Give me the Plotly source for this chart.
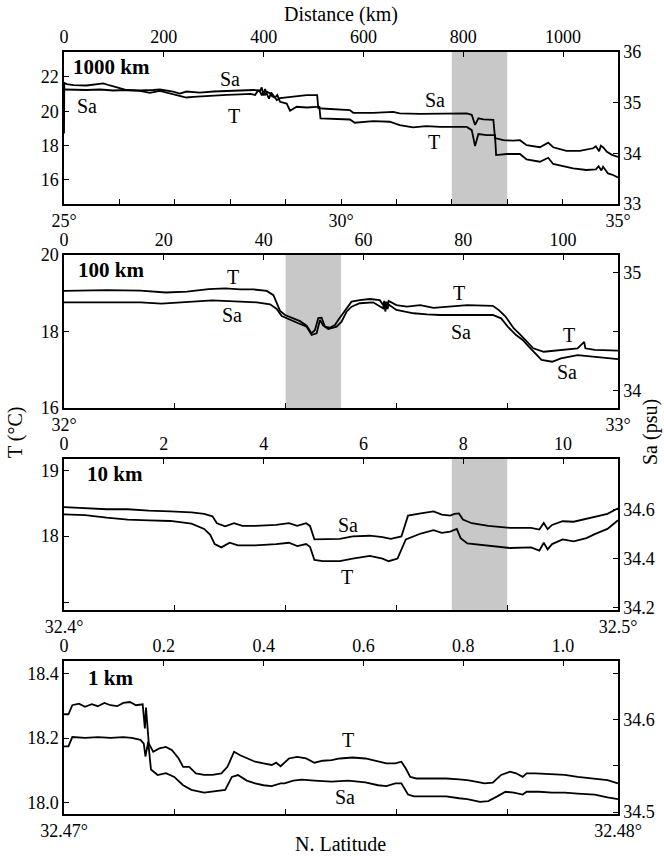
import plotly.graph_objects as go

# ---------------- data ----------------
# Panel 1 (1000 km): latitude vs T and Sa
p1_lat_T = [25.00, 25.005, 25.05, 25.17, 25.41, 25.59, 25.71, 25.83, 25.95, 26.13, 26.37, 26.55, 26.73, 26.91,
            27.09, 27.21, 27.33, 27.51, 27.70, 27.94, 28.18, 28.36, 28.45, 28.50, 28.54, 28.57, 28.60, 28.63,
            28.67, 28.72, 28.76, 28.81, 28.85, 28.90, 29.02, 29.08, 29.20, 29.38, 29.56, 29.61, 29.63, 29.98,
            30.16, 30.25, 30.58, 30.88, 31.06, 31.30, 31.54, 31.79, 32.27, 32.36, 32.42, 32.48, 32.63, 32.78,
            32.80, 32.99, 33.23, 33.35, 33.59, 33.74, 33.83, 34.19, 34.43, 34.60, 34.65, 34.70, 34.73, 34.82,
            34.91, 35.00]
p1_T = [18.7, 21.65, 21.58, 21.52, 21.50, 21.58, 21.62, 21.50, 21.38, 21.23, 21.19, 21.07, 21.19, 21.04,
        20.88, 20.80, 20.84, 20.88, 20.94, 20.95, 20.98, 21.01, 20.95, 21.20, 21.13, 20.92, 21.18, 20.94,
        21.12, 21.04, 20.86, 20.80, 20.95, 20.55, 20.45, 20.03, 20.26, 20.22, 20.26, 20.26, 19.58, 19.55,
        19.52, 19.33, 19.43, 19.39, 19.19, 19.06, 19.13, 19.09, 19.09, 18.90, 17.97, 18.67, 18.61, 18.61,
        17.45, 17.51, 17.51, 17.20, 17.06, 17.29, 16.93, 16.68, 16.58, 16.62, 16.80, 16.55, 16.77, 16.38,
        16.29, 16.15]
p1_lat_S = [25.00, 25.17, 25.41, 25.65, 25.89, 26.13, 26.37, 26.61, 26.73, 26.97, 27.09, 27.21, 27.45, 27.70,
            27.94, 28.18, 28.42, 28.54, 28.57, 28.60, 28.63, 28.66, 28.70, 28.74, 28.78, 28.84, 28.90, 29.14,
            29.26, 29.38, 29.57, 29.59, 29.73, 29.98, 30.16, 30.22, 30.58, 30.94, 31.06, 31.43, 31.79, 32.27,
            32.36, 32.42, 32.48, 32.57, 32.75, 32.78, 32.93, 33.11, 33.23, 33.35, 33.59, 33.74, 33.83, 34.07,
            34.31, 34.55, 34.60, 34.66, 34.69, 34.73, 34.80, 34.89, 35.00]
p1_S = [35.26, 35.25, 35.25, 35.26, 35.24, 35.25, 35.24, 35.25, 35.26, 35.22, 35.18, 35.22, 35.20, 35.22,
        35.23, 35.25, 35.25, 35.24, 35.30, 35.14, 35.27, 35.18, 35.08, 35.20, 35.13, 35.05, 35.09, 35.12,
        35.13, 35.15, 35.15, 34.89, 34.88, 34.87, 34.855, 34.80, 34.80, 34.82, 34.79, 34.78, 34.79, 34.79,
        34.76, 34.56, 34.69, 34.67, 34.66, 34.30, 34.26, 34.25, 34.26, 34.16, 34.12, 34.21, 34.12, 34.05,
        34.05, 34.10, 34.14, 34.04, 34.15, 34.12, 34.03, 33.97, 33.93]

# Panel 2 (100 km)
p2_lat_T = [32.000, 32.077, 32.138, 32.184, 32.222, 32.261, 32.291, 32.318, 32.342, 32.366, 32.378, 32.385,
            32.390, 32.399, 32.414, 32.426, 32.438, 32.447, 32.453, 32.459, 32.465, 32.471, 32.480, 32.489,
            32.495, 32.504, 32.513, 32.519, 32.534, 32.552, 32.570, 32.576, 32.578, 32.580, 32.582, 32.584,
            32.586, 32.600, 32.619, 32.643, 32.667, 32.691, 32.715, 32.728, 32.774, 32.785, 32.797, 32.812,
            32.824, 32.835, 32.847, 32.866, 32.881, 32.904, 32.927, 32.939, 32.941, 32.958, 33.000]
p2_T = [19.06, 19.08, 19.07, 19.02, 19.04, 19.11, 19.13, 19.10, 19.10, 19.06, 18.95, 18.69,
        18.54, 18.43, 18.35, 18.27, 18.15, 17.95, 18.04, 18.35, 18.36, 18.13, 18.10, 18.17,
        18.30, 18.48, 18.69, 18.78, 18.82, 18.85, 18.82, 18.69, 18.80, 18.62, 18.78, 18.64,
        18.80, 18.69, 18.65, 18.69, 18.62, 18.65, 18.67, 18.69, 18.67, 18.56, 18.39, 18.08,
        17.91, 17.73, 17.56, 17.47, 17.49, 17.54, 17.56, 17.73, 17.56, 17.52, 17.50]
p2_lat_S = [32.000, 32.077, 32.138, 32.176, 32.222, 32.268, 32.318, 32.348, 32.372, 32.384, 32.393, 32.408,
            32.423, 32.438, 32.447, 32.456, 32.462, 32.468, 32.477, 32.492, 32.501, 32.510, 32.519, 32.534,
            32.558, 32.576, 32.578, 32.580, 32.582, 32.584, 32.586, 32.600, 32.631, 32.655, 32.679, 32.715,
            32.774, 32.789, 32.801, 32.816, 32.828, 32.839, 32.851, 32.862, 32.881, 32.897, 32.927, 32.958,
            33.000]
p2_S = [34.748, 34.748, 34.748, 34.736, 34.748, 34.765, 34.753, 34.748, 34.731, 34.691, 34.632, 34.598,
        34.570, 34.541, 34.470, 34.485, 34.598, 34.549, 34.521, 34.541, 34.583, 34.668, 34.711, 34.740,
        34.748, 34.697, 34.740, 34.670, 34.731, 34.690, 34.730, 34.683, 34.655, 34.646, 34.640, 34.640,
        34.640, 34.612, 34.541, 34.470, 34.428, 34.371, 34.315, 34.258, 34.243, 34.272, 34.300, 34.286,
        34.266]

# Panel 3 (10 km)
p3_lat_T = [32.4000, 32.4038, 32.4077, 32.4115, 32.4153, 32.4192, 32.4230, 32.4253, 32.4264, 32.4272, 32.4284,
            32.4299, 32.4314, 32.4345, 32.4383, 32.4406, 32.4421, 32.4437, 32.4444, 32.4452, 32.4467, 32.4498,
            32.4521, 32.4552, 32.4575, 32.4586, 32.4602, 32.4617, 32.4644, 32.4667, 32.4682, 32.4697, 32.4709,
            32.4716, 32.4728, 32.4766, 32.4805, 32.4843, 32.4858, 32.4866, 32.4873, 32.4881, 32.4900, 32.4920,
            32.4943, 32.4958, 32.4981, 32.5000]
p3_T = [18.33, 18.32, 18.28, 18.25, 18.24, 18.23, 18.19, 18.11, 18.02, 17.88, 17.83,
        17.90, 17.86, 17.86, 17.88, 17.90, 17.85, 17.88, 17.84, 17.64, 17.62, 17.62,
        17.66, 17.70, 17.66, 17.62, 17.66, 17.95, 18.04, 18.09, 18.05, 18.07, 18.11,
        17.97, 17.89, 17.86, 17.82, 17.83, 17.78, 17.90, 17.80, 17.88, 17.95, 17.92,
        17.97, 18.03, 18.11, 18.24]
p3_lat_S = [32.4000, 32.4038, 32.4077, 32.4115, 32.4153, 32.4192, 32.4230, 32.4253, 32.4268, 32.4276, 32.4291,
            32.4307, 32.4322, 32.4345, 32.4383, 32.4406, 32.4421, 32.4437, 32.4444, 32.4452, 32.4467, 32.4498,
            32.4521, 32.4552, 32.4575, 32.4590, 32.4609, 32.4621, 32.4644, 32.4667, 32.4682, 32.4697, 32.4705,
            32.4713, 32.4720, 32.4736, 32.4766, 32.4805, 32.4843, 32.4858, 32.4866, 32.4873, 32.4881, 32.4900,
            32.4920, 32.4958, 32.4981, 32.5000]
p3_S = [34.610, 34.605, 34.601, 34.601, 34.595, 34.592, 34.588, 34.582, 34.572, 34.544, 34.531,
        34.544, 34.533, 34.533, 34.537, 34.544, 34.533, 34.544, 34.533, 34.478, 34.478, 34.480,
        34.490, 34.493, 34.487, 34.480, 34.490, 34.575, 34.584, 34.592, 34.579, 34.575, 34.582,
        34.584, 34.559, 34.544, 34.533, 34.525, 34.525, 34.518, 34.545, 34.520, 34.537, 34.552,
        34.550, 34.569, 34.582, 34.605]

# Panel 4 (1 km)
p4_lat_T = [32.47000, 32.47008, 32.47015, 32.47027, 32.47038, 32.47050, 32.47061, 32.47073, 32.47084, 32.47096,
            32.47107, 32.47119, 32.47130, 32.47142, 32.47146, 32.47148, 32.47153, 32.47161, 32.47172, 32.47184,
            32.47195, 32.47207, 32.47215, 32.47226, 32.47238, 32.47253, 32.47268, 32.47284, 32.47295, 32.47307,
            32.47318, 32.47330, 32.47345, 32.47360, 32.47375, 32.47383, 32.47391, 32.47406, 32.47421, 32.47437,
            32.47452, 32.47467, 32.47483, 32.47498, 32.47521, 32.47544, 32.47567, 32.47582, 32.47598, 32.47609,
            32.47617, 32.47625, 32.47636, 32.47651, 32.47690, 32.47713, 32.47728, 32.47743, 32.47759, 32.47774,
            32.47789, 32.47805, 32.47816, 32.47828, 32.47835, 32.47851, 32.47881, 32.47904, 32.47927, 32.47958,
            32.47981, 32.48000]
p4_T = [18.274, 18.274, 18.302, 18.307, 18.297, 18.305, 18.299, 18.309, 18.302, 18.299,
        18.309, 18.312, 18.302, 18.305, 18.230, 18.295, 18.184, 18.158, 18.168, 18.173,
        18.163, 18.137, 18.111, 18.111, 18.091, 18.086, 18.086, 18.091, 18.111, 18.158,
        18.147, 18.137, 18.127, 18.122, 18.117, 18.124, 18.113, 18.137, 18.142, 18.137,
        18.124, 18.130, 18.132, 18.137, 18.140, 18.137, 18.127, 18.122, 18.122, 18.127,
        18.106, 18.080, 18.075, 18.075, 18.075, 18.072, 18.070, 18.065, 18.060, 18.062,
        18.086, 18.096, 18.091, 18.080, 18.091, 18.091, 18.089, 18.086, 18.080, 18.075,
        18.070, 18.060]
p4_lat_S = [32.47000, 32.47008, 32.47015, 32.47038, 32.47061, 32.47084, 32.47107, 32.47122, 32.47138, 32.47144,
            32.47147, 32.47152, 32.47157, 32.47169, 32.47184, 32.47199, 32.47215, 32.47230, 32.47253, 32.47268,
            32.47291, 32.47303, 32.47314, 32.47330, 32.47345, 32.47360, 32.47375, 32.47391, 32.47398, 32.47414,
            32.47429, 32.47452, 32.47483, 32.47513, 32.47544, 32.47567, 32.47582, 32.47598, 32.47609, 32.47621,
            32.47632, 32.47651, 32.47690, 32.47713, 32.47728, 32.47751, 32.47766, 32.47782, 32.47797, 32.47812,
            32.47828, 32.47835, 32.47858, 32.47881, 32.47904, 32.47927, 32.47958, 32.47981, 32.48000]
p4_S = [34.571, 34.571, 34.581, 34.580, 34.581, 34.580, 34.581, 34.580, 34.578, 34.574,
        34.560, 34.576, 34.546, 34.540, 34.542, 34.538, 34.529, 34.524, 34.521, 34.522,
        34.524, 34.538, 34.540, 34.534, 34.531, 34.529, 34.528, 34.531, 34.531, 34.534,
        34.535, 34.534, 34.533, 34.534, 34.532, 34.529, 34.528, 34.531, 34.531, 34.519,
        34.517, 34.517, 34.517, 34.515, 34.514, 34.511, 34.512, 34.517, 34.522, 34.521,
        34.519, 34.522, 34.522, 34.521, 34.521, 34.520, 34.519, 34.516, 34.514]

panel_labels = ["1000 km", "100 km", "10 km", "1 km"]
lat_ranges = [[25, 35], [32, 33], [32.4, 32.5], [32.47, 32.48]]
km_ranges = [[0, 1110], [0, 111], [0, 11.1], [0, 1.11]]
T_ranges = [[14.6, 23.45], [16, 20], [16.88, 19.17], [17.965, 18.439]]
S_ranges = [[33, 36], [33.85, 35.15], [34.19, 34.806], [34.498, 34.663]]
shade = [[32, 33], [32.4, 32.5], [32.47, 32.48], None]

lat_ticks = [[25, 26, 27, 28, 29, 30, 31, 32, 33, 34, 35],
             [32, 32.2, 32.4, 32.6, 32.8, 33],
             [32.4, 32.42, 32.44, 32.46, 32.48, 32.5],
             [32.47, 32.472, 32.474, 32.476, 32.478, 32.48]]
lat_text = [["25°", "", "", "", "", "30°", "", "", "", "", "35°"],
            ["32°", "", "", "", "", "33°"],
            ["32.4°", "", "", "", "", "32.5°"],
            ["32.47°", "", "", "", "", "32.48°"]]
km_ticks = [[0, 200, 400, 600, 800, 1000], [0, 20, 40, 60, 80, 100], [0, 2, 4, 6, 8, 10],
            [0, 0.2, 0.4, 0.6, 0.8, 1.0]]
km_text = [["0", "200", "400", "600", "800", "1000"], ["0", "20", "40", "60", "80", "100"],
           ["0", "2", "4", "6", "8", "10"], ["0", "0.2", "0.4", "0.6", "0.8", "1.0"]]
T_ticks = [[16, 18, 20, 22], [16, 18, 20], [17, 18, 19], [18.0, 18.2, 18.4]]
T_text = [["16", "18", "20", "22"], ["16", "18", "20"], ["", "18", "19"], ["18.0", "18.2", "18.4"]]
S_ticks = [[33, 34, 35, 36], [34, 34.5, 35], [34.2, 34.4, 34.6], [34.5, 34.55, 34.6, 34.65]]
S_text = [["33", "34", "35", "36"], ["34", "", "35"], ["34.2", "34.4", "34.6"], ["34.5", "", "34.6", ""]]

# curve labels: (panel, lat, T-position, text)
curve_labels = [
    (0, 25.42, 20.3, "Sa"), (0, 27.99, 21.9, "Sa"), (0, 28.07, 19.75, "T"),
    (0, 31.70, 20.65, "Sa"), (0, 31.67, 18.2, "T"),
    (1, 32.305, 19.43, "T"), (1, 32.303, 18.43, "Sa"), (1, 32.713, 19.0, "T"),
    (1, 32.716, 17.99, "Sa"), (1, 32.912, 17.91, "T"), (1, 32.908, 16.95, "Sa"),
    (2, 32.4513, 18.17, "Sa"), (2, 32.4510, 17.38, "T"),
    (3, 32.47513, 18.194, "T"), (3, 32.47507, 18.019, "Sa"),
]
label_pos = [(25.12, 22.55), (32.022, 19.61), (32.4038, 18.94), (32.47040, 18.385)]

# ---------------- figure ----------------
W, H = 664, 857
x_dom = [64 / W, 618 / W]
boxes = [(52, 204), (255, 408), (459, 610), (661, 814)]

series = [(p1_lat_T, p1_T, p1_lat_S, p1_S), (p2_lat_T, p2_T, p2_lat_S, p2_S),
          (p3_lat_T, p3_T, p3_lat_S, p3_S), (p4_lat_T, p4_T, p4_lat_S, p4_S)]


def sfx(n):
    return "" if n == 1 else str(n)


fig = go.Figure()
FONT = "Liberation Serif, Times New Roman, serif"
line_style = dict(color="black", width=1.8)
layout = {}
shapes = []
annotations = []

for i in range(4):
    a, b = sfx(2 * i + 1), sfx(2 * i + 2)
    lt, T, ls, S = series[i]
    fig.add_trace(go.Scatter(x=lt, y=T, mode="lines", line=line_style,
                             xaxis=f"x{a}", yaxis=f"y{a}", showlegend=False, hoverinfo="skip"))
    fig.add_trace(go.Scatter(x=ls, y=S, mode="lines", line=line_style,
                             xaxis=f"x{a}", yaxis=f"y{b}", showlegend=False, hoverinfo="skip"))
    # empty trace so that the top (distance) axis is drawn
    fig.add_trace(go.Scatter(x=km_ticks[i], y=[None] * len(km_ticks[i]), mode="lines",
                             xaxis=f"x{b}", yaxis=f"y{a}", showlegend=False, hoverinfo="skip"))
    top, bot = boxes[i]
    y_dom = [1 - bot / H, 1 - top / H]
    common = dict(showline=True, linecolor="black", linewidth=1.5, ticks="inside", ticklen=5,
                  tickwidth=1.2, tickcolor="black", showgrid=False, zeroline=False, automargin=False,
                  tickfont=dict(family=FONT, size=18, color="black"))
    layout[f"xaxis{a}"] = dict(domain=x_dom, anchor=f"y{a}", range=lat_ranges[i],
                               tickmode="array", tickvals=lat_ticks[i], ticktext=lat_text[i], **common)
    layout[f"xaxis{b}"] = dict(overlaying=f"x{a}", anchor=f"y{a}", side="top", range=km_ranges[i],
                               tickmode="array", tickvals=km_ticks[i], ticktext=km_text[i], **common)
    layout[f"yaxis{a}"] = dict(domain=y_dom, anchor=f"x{a}", range=T_ranges[i],
                               tickmode="array", tickvals=T_ticks[i], ticktext=T_text[i], **common)
    layout[f"yaxis{b}"] = dict(overlaying=f"y{a}", anchor=f"x{a}", side="right", range=S_ranges[i],
                               tickmode="array", tickvals=S_ticks[i], ticktext=S_text[i], **common)
    if shade[i] is not None:
        shapes.append(dict(type="rect", xref=f"x{a}", yref=f"y{a} domain", x0=shade[i][0], x1=shade[i][1],
                           y0=0, y1=1, fillcolor="#c8c8c8", line=dict(width=0), layer="below"))
    lx, ly = label_pos[i]
    annotations.append(dict(xref=f"x{a}", yref=f"y{a}", x=lx, y=ly, text=f"<b>{panel_labels[i]}</b>",
                            showarrow=False, xanchor="left", yanchor="middle",
                            font=dict(family=FONT, size=21, color="black")))

for (p, lx, ly, txt) in curve_labels:
    a = sfx(2 * p + 1)
    annotations.append(dict(xref=f"x{a}", yref=f"y{a}", x=lx, y=ly, text=txt, showarrow=False,
                            xanchor="center", yanchor="middle",
                            font=dict(family=FONT, size=20, color="black")))

annotations += [
    dict(xref="paper", yref="paper", x=341 / W, y=1 - 15 / H, text="Distance (km)", showarrow=False,
         xanchor="center", yanchor="middle", font=dict(family=FONT, size=20, color="black")),
    dict(xref="paper", yref="paper", x=341 / W, y=1 - 844 / H, text="N. Latitude", showarrow=False,
         xanchor="center", yanchor="middle", font=dict(family=FONT, size=20, color="black")),
    dict(xref="paper", yref="paper", x=15 / W, y=1 - 432 / H, text="T (°C)", showarrow=False, textangle=-90,
         xanchor="center", yanchor="middle", font=dict(family=FONT, size=20, color="black")),
    dict(xref="paper", yref="paper", x=650 / W, y=1 - 432 / H, text="Sa (psu)", showarrow=False, textangle=-90,
         xanchor="center", yanchor="middle", font=dict(family=FONT, size=20, color="black")),
]

fig.update_layout(width=W, height=H, margin=dict(l=0, r=0, t=0, b=0), paper_bgcolor="white",
                  plot_bgcolor="white", shapes=shapes, annotations=annotations, showlegend=False, **layout)
fig.write_html("out.html")
